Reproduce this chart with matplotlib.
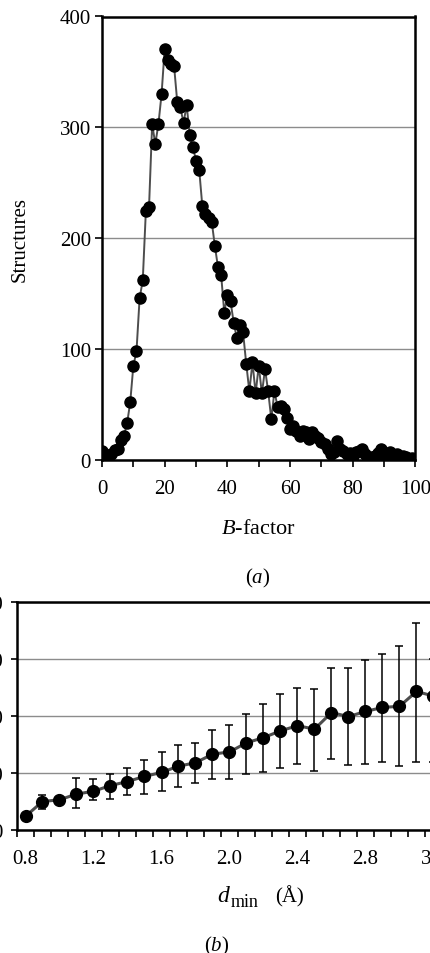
import numpy as np
import matplotlib
matplotlib.use('Agg')
import matplotlib.pyplot as plt
from matplotlib.ticker import FixedLocator, FuncFormatter

plt.rcParams['font.family'] = ['Liberation Serif', 'DejaVu Serif']
plt.rcParams['mathtext.fontset'] = 'custom'
plt.rcParams['mathtext.rm'] = 'Liberation Serif'
plt.rcParams['mathtext.it'] = 'Liberation Serif:italic'

# (a) number of structures per B-factor
bfactor = list(range(0, 101))
structures = [8, 2, 3, 5, 9, 10, 18, 22, 33, 52,
              85, 98, 146, 162, 225, 228, 303, 285, 303, 330,
              371, 361, 357, 355, 323, 318, 304, 320, 293, 282,
              270, 262, 229, 222, 218, 215, 193, 174, 167, 133,
              149, 143, 124, 110, 122, 115, 87, 62, 88, 60,
              85, 60, 82, 62, 37, 62, 48, 49, 46, 38,
              28, 31, 26, 22, 26, 25, 19, 25, 22, 20,
              16, 14, 10, 5, 7, 17, 10, 8, 5, 6,
              4, 7, 8, 10, 5, 1, 3, 4, 6, 10,
              3, 4, 7, 3, 5, 2, 4, 3, 1, 2, 1]

# (b) mean value vs resolution with error bars
dmin = [0.8, 0.9, 1.0, 1.1, 1.2, 1.3, 1.4, 1.5, 1.6, 1.7, 1.8, 1.9, 2.0,
        2.1, 2.2, 2.3, 2.4, 2.5, 2.6, 2.7, 2.8, 2.9, 3.0, 3.1, 3.2]
mean_b = [4.8, 10.0, 10.6, 12.6, 13.6, 15.6, 17.0, 18.8, 20.2, 22.4, 23.6, 26.6, 27.4,
          30.6, 32.4, 34.8, 36.6, 35.4, 41.2, 39.8, 41.6, 43.0, 43.4, 48.6, 47.0]
upper_b = [5.4, 12.2, 11.2, 18.2, 17.8, 19.8, 21.8, 24.4, 27.2, 29.8, 30.6, 35.0, 37.0,
           40.8, 44.2, 47.8, 49.8, 49.4, 56.8, 57.0, 59.8, 61.8, 64.4, 72.8, 60.0]
lower_b = [4.2, 7.2, 10.0, 7.6, 10.6, 10.8, 12.4, 12.8, 13.6, 15.0, 16.4, 17.8, 17.8,
           19.6, 20.2, 21.8, 23.0, 20.8, 25.0, 22.8, 23.0, 23.8, 22.4, 23.8, 24.0]

W, H = 431, 954
fig = plt.figure(figsize=(W / 100, H / 100), dpi=100)

def px(x0, y_top, x1, y_bot):
    return [x0 / W, 1 - y_bot / H, (x1 - x0) / W, (y_bot - y_top) / H]

fs = 15

# ---- panel (a)
ax1 = fig.add_axes(px(102, 17.5, 415.5, 461))
ax1.plot(bfactor, structures, '-', color='0.3', lw=1.4, zorder=2)
ax1.plot(bfactor, structures, 'o', color='black', ms=8, zorder=3)
ax1.set_xlim(0, 100)
ax1.set_ylim(0, 400)
ax1.set_yticks([0, 100, 200, 300, 400])
ax1.xaxis.set_major_locator(FixedLocator(np.arange(0, 101, 10)))
ax1.xaxis.set_major_formatter(FuncFormatter(lambda v, p: '%d' % v if int(round(v)) % 20 == 0 else ''))
ax1.yaxis.grid(True, color='0.55', lw=1)
ax1.set_axisbelow(True)
for s in ax1.spines.values():
    s.set_linewidth(1.8)
ax1.tick_params(axis='both', direction='out', length=5, width=1.2, labelsize=fs)
ax1.tick_params(axis='x', pad=9)
ax1.tick_params(axis='y', pad=3)

fig.text(20 / W, 1 - 240 / H, 'Structures', rotation=90, ha='center', va='center', fontsize=fs)
fig.text(258 / W, 1 - 530 / H, r'$B$-factor', ha='center', va='center', fontsize=fs + 1)
fig.text(258 / W, 1 - 578 / H, r'($a$)', ha='center', va='center', fontsize=fs)

# ---- panel (b)
ax2 = fig.add_axes(px(17, 603, 459, 831))
err = [np.array(mean_b) - np.array(lower_b), np.array(upper_b) - np.array(mean_b)]
ax2.errorbar(dmin, mean_b, yerr=err, fmt='none', ecolor='black', elinewidth=1.1,
             capsize=3, capthick=1.1, zorder=2)
ax2.plot(dmin, mean_b, '-', color='0.3', lw=2.2, zorder=3)
ax2.plot(dmin, mean_b, 'o', color='black', ms=8.5, zorder=4)
ax2.set_xlim(0.75, 3.35)
ax2.set_ylim(0, 80)
ax2.set_yticks([0, 20, 40, 60, 80])
ax2.set_xticks(np.arange(0.8, 3.3, 0.4))
ax2.xaxis.set_major_formatter(FuncFormatter(lambda v, p: '%.1f' % v))
ax2.set_xticks(np.arange(0.75, 3.36, 0.1), minor=True)
ax2.yaxis.grid(True, color='0.55', lw=1)
ax2.set_axisbelow(True)
for s in ax2.spines.values():
    s.set_linewidth(1.8)
ax2.tick_params(axis='x', which='major', length=0, labelsize=fs, pad=14)
ax2.tick_params(axis='x', which='minor', direction='out', length=5, width=1.2)
ax2.tick_params(axis='y', direction='out', length=4, width=1.2, labelsize=fs, pad=6)

# axis title: italic d, lowered "min", then unit
fig.text(224 / W, 1 - 897 / H, r'$d$', ha='center', va='center', fontsize=fs + 2)
fig.text(245 / W, 1 - 903 / H, 'min', ha='center', va='center', fontsize=fs - 2)
fig.text(290 / W, 1 - 897 / H, '(Å)', ha='center', va='center', fontsize=fs)
fig.text(217 / W, 1 - 946 / H, r'($b$)', ha='center', va='center', fontsize=fs)

fig.savefig('out.png', dpi=100)
